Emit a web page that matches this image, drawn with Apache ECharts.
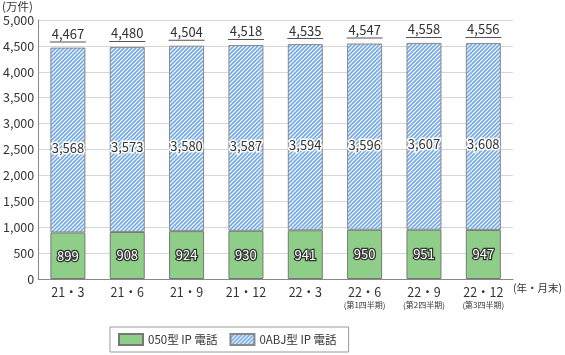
<!DOCTYPE html>
<html>
<head>
<meta charset="utf-8">
<script src="https://cdn.jsdelivr.net/npm/echarts@6/dist/echarts.min.js"></script>
<style>
  html, body { margin: 0; padding: 0; background: #fff; }
  #main { width: 565px; height: 355px; }
</style>
</head>
<body>
<div id="main"></div>
<script>
// 年・月末
const categories = ['21・3', '21・6', '21・9', '21・12', '22・3', '22・6', '22・9', '22・12'];
const subLabels = ['', '', '', '', '', '(第1四半期)', '(第2四半期)', '(第3四半期)'];
// 050型 IP電話
const ip050 = [899, 908, 924, 930, 941, 950, 951, 947];
// 0ABJ型 IP電話
const ip0abj = [3568, 3573, 3580, 3587, 3594, 3596, 3607, 3608];
// 合計
const totals = [4467, 4480, 4504, 4518, 4535, 4547, 4558, 4556];
const yTicks = { min: 0, max: 5000, step: 500 };

const FONT = '"Noto Sans CJK JP", "Noto Sans", sans-serif';
const fmt = v => v.toLocaleString('en-US');

// 斜線のパターン
function hatch() {
  const c = document.createElement('canvas');
  c.width = 4; c.height = 4;
  const g = c.getContext('2d');
  g.fillStyle = '#ffffff';
  g.fillRect(0, 0, 4, 4);
  g.strokeStyle = '#72a9e8';
  g.lineWidth = 1.6;
  g.beginPath();
  g.moveTo(-1, 5); g.lineTo(5, -1);
  g.moveTo(-1, 1); g.lineTo(1, -1);
  g.moveTo(3, 5); g.lineTo(5, 3);
  g.stroke();
  return { image: c, repeat: 'repeat' };
}

const myChart = echarts.init(document.getElementById('main'));
const option = {
  animation: false,
  textStyle: { fontFamily: FONT },
  grid: { left: 37, right: 52, top: 20, bottom: 76 },
  legend: {
    data: ['050型 IP 電話', '0ABJ型 IP 電話'],
    icon: 'rect',
    left: 110, top: 327,
    padding: [6, 12, 6, 8],
    itemGap: 12,
    itemWidth: 24, itemHeight: 11,
    borderColor: '#999', borderWidth: 1, borderRadius: 0,
    textStyle: { fontSize: 11.5, color: '#333', fontFamily: FONT }
  },
  xAxis: {
    type: 'category',
    data: categories,
    axisLine: { lineStyle: { color: '#888' } },
    axisTick: { inside: true, length: 4, lineStyle: { color: '#888' } },
    axisLabel: {
      interval: 0,
      margin: 6,
      formatter: (v, i) => subLabels[i] ? `{m|${v}}\n{s|${subLabels[i]}}` : `{m|${v}}`,
      rich: {
        m: { fontSize: 12.5, color: '#333', fontFamily: FONT, lineHeight: 15 },
        s: { fontSize: 8, color: '#333', fontFamily: FONT, lineHeight: 10 }
      }
    }
  },
  yAxis: {
    type: 'value',
    min: yTicks.min, max: yTicks.max, interval: yTicks.step,
    axisLine: { show: true, lineStyle: { color: '#888' } },
    axisTick: { show: false },
    axisLabel: { fontSize: 12.5, color: '#333', margin: 4, formatter: fmt },
    splitLine: { lineStyle: { color: '#d6d6d6' } }
  },
  graphic: [
    { type: 'text', left: 2, top: 1, style: { text: '(万件)', fontSize: 11.5, fill: '#333', fontFamily: FONT } },
    { type: 'text', right: 3, top: 283, style: { text: '(年・月末)', fontSize: 10.5, fill: '#333', fontFamily: FONT } }
  ],
  series: [
    {
      name: '050型 IP 電話',
      type: 'bar', stack: 'a', barWidth: 35,
      data: ip050,
      itemStyle: { color: '#8fce88', borderColor: '#777', borderWidth: 1 },
      label: {
        show: true, position: 'inside', formatter: p => fmt(p.value),
        fontSize: 13, color: '#fff', textBorderColor: '#333', textBorderWidth: 2.5
      }
    },
    {
      name: '0ABJ型 IP 電話',
      type: 'bar', stack: 'a', barWidth: 35,
      data: ip0abj,
      itemStyle: { color: hatch(), borderColor: '#888', borderWidth: 1 },
      label: {
        show: true, position: 'inside', offset: [0, 8], formatter: p => fmt(p.value),
        fontSize: 13, color: '#333', textBorderColor: '#fff', textBorderWidth: 3
      }
    },
    {
      name: 'total',
      type: 'bar', stack: 'a', barWidth: 35,
      data: totals.map(() => 0),
      itemStyle: { color: 'transparent' },
      label: {
        show: true, position: 'top', distance: 5,
        formatter: p => `{a|${fmt(totals[p.dataIndex])}}\n{u| }`,
        rich: {
          a: { fontSize: 13, color: '#333', fontFamily: FONT, lineHeight: 15 },
          u: { width: 36, height: 1, lineHeight: 1, fontSize: 1, backgroundColor: '#555' }
        }
      }
    }
  ]
};
myChart.setOption(option);
</script>
</body>
</html>
